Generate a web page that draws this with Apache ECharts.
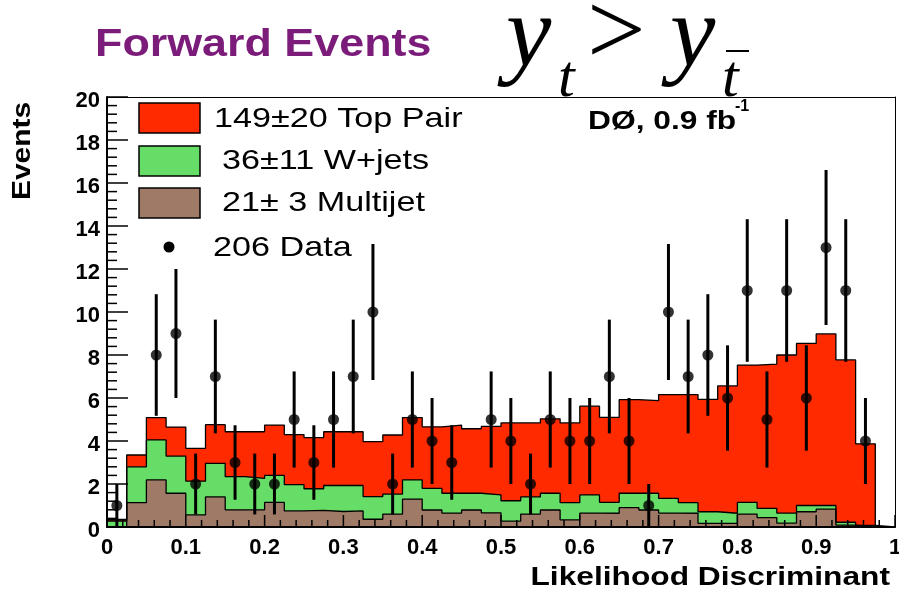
<!DOCTYPE html>
<html><head><meta charset="utf-8">
<script src="https://cdn.jsdelivr.net/npm/echarts@6/dist/echarts.min.js"></script>
<style>html,body{margin:0;padding:0;background:#fff}#c{width:899px;height:598px}</style>
</head><body><div id="c"></div>
<script>
// ---- data (40 bins of width 0.025 on the likelihood discriminant) ----
const binWidth = 0.025;
const multijet = [0,1.13,2.19,1.57,0.56,1.40,0.80,0.80,1.15,0.75,0.77,0.72,0.75,0.36,0.60,1.30,0.79,0.65,0.79,0.66,0.27,0.60,0.79,0.33,0.65,0.64,0.90,0.79,0.65,0.64,0.17,0.17,0.60,0.44,0.18,0.71,0.83,0.09,0.00,0];
const wjets    = [0.28,1.67,1.86,1.73,1.57,1.56,1.54,1.46,1.25,1.22,1.01,1.21,1.18,1.05,0.93,0.89,1.01,0.92,0.78,0.83,0.95,0.80,0.78,0.80,0.84,0.51,0.67,0.78,0.68,0.49,0.54,0.47,0.55,0.43,0.47,0.29,0.17,0.13,0.07,0];
const topPair  = [0.07,0.55,1.04,1.35,1.53,1.80,2.09,2.17,2.34,2.33,2.38,2.50,2.50,2.56,2.75,2.90,2.86,3.17,3.00,3.19,3.62,3.44,3.46,3.71,4.13,3.95,4.35,4.31,4.83,5.03,5.23,5.92,6.38,6.71,7.35,7.54,7.98,7.55,3.80,0];
const dataCounts = [1,0,8,9,2,7,3,2,2,5,3,5,7,10,2,5,4,3,0,5,4,2,5,4,4,7,4,1,10,7,8,6,11,5,11,6,13,11,4,0];
const legendLabels = ['149\u00b120 Top Pair', '36\u00b111 W+jets', '21\u00b1 3 Multijet', '206 Data'];
const titleText = 'Forward Events';
const xTitle = 'Likelihood Discriminant';
const yTitle = 'Events';
const xMajorStep = 0.1, yMajorStep = 2, minorDiv = 5;

const colTop = '#ff2a00', colW = '#66dd66', colMJ = '#9f7b67';

const cumMJ = multijet.slice();
const cumW = multijet.map((v, i) => v + wjets[i]);
const cumTop = cumW.map((v, i) => v + topPair[i]);

function stepPoints(vals) {
  const pts = [[0, 0]];
  vals.forEach((v, k) => { pts.push([k * binWidth, v], [(k + 1) * binWidth, v]); });
  pts.push([vals.length * binWidth, 0]);
  return pts;
}
const pointData = [];
const errData = [];
dataCounts.forEach((n, k) => {
  if (n > 0) {
    const xc = (k + 0.5) * binWidth;
    pointData.push([xc, n]);
    const e = Math.sqrt(n);
    errData.push([xc, Math.max(0, n - e), n + e]);
  }
});
// tick values: kind 0 = x major, 1 = x minor, 2 = y major, 3 = y minor
const tickData = [];
for (let i = 0; i <= 10 * minorDiv; i++) {
  tickData.push([i % minorDiv === 0 ? 0 : 1, +(i * xMajorStep / minorDiv).toFixed(4)]);
  tickData.push([i % minorDiv === 0 ? 2 : 3, +(i * yMajorStep / minorDiv).toFixed(4)]);
}
const tickLen = [12, 7, 21, 10];

function histSeries(vals, color) {
  return {
    type: 'line', data: stepPoints(vals), symbol: 'none', silent: true, animation: false,
    lineStyle: { color: '#000', width: 1.3 },
    areaStyle: { color: color, opacity: 1 }, z: 2
  };
}

const chart = echarts.init(document.getElementById('c'), null, { renderer: 'canvas' });
const axisFont = { fontFamily: 'Liberation Sans', fontWeight: 'bold', fontSize: 22, color: '#000' };
const txt = (o) => Object.assign({ type: 'text', silent: true, z: 100 }, o);
const frameAxis = (pos, min, max) => ({
  type: 'value', position: pos, min: min, max: max, z: 10,
  axisLine: { show: true, onZero: false, lineStyle: { color: '#000', width: 1 } },
  axisTick: { show: false }, minorTick: { show: false }, axisLabel: { show: false },
  splitLine: { show: false }, minorSplitLine: { show: false }
});

const graphics = [
  txt({ x: 95, y: 46, scaleX: 1.18, style: { text: titleText, font: 'bold 38px "Liberation Sans"', fill: '#7b1c7b', textAlign: 'left', textVerticalAlign: 'middle' } }),
  txt({ x: 506, y: 38, style: { text: 'y', font: 'italic 102px "Liberation Serif"', fill: '#000', textAlign: 'left', textVerticalAlign: 'middle' } }),
  txt({ x: 558, y: 80, style: { text: 't', font: 'italic 60px "Liberation Serif"', fill: '#000', textAlign: 'left', textVerticalAlign: 'middle' } }),
  txt({ x: 587, y: 37, style: { text: '>', font: '104px "Liberation Serif"', fill: '#000', textAlign: 'left', textVerticalAlign: 'middle' } }),
  txt({ x: 670, y: 38, style: { text: 'y', font: 'italic 102px "Liberation Serif"', fill: '#000', textAlign: 'left', textVerticalAlign: 'middle' } }),
  txt({ x: 722, y: 80, style: { text: 't', font: 'italic 60px "Liberation Serif"', fill: '#000', textAlign: 'left', textVerticalAlign: 'middle' } }),
  { type: 'line', silent: true, z: 100, shape: { x1: 726, y1: 51, x2: 749, y2: 51 }, style: { stroke: '#000', lineWidth: 2 } },
  { type: 'rect', silent: true, z: 100, shape: { x: 139, y: 103, width: 61, height: 30 }, style: { fill: colTop, stroke: '#000', lineWidth: 1.5 } },
  { type: 'rect', silent: true, z: 100, shape: { x: 139, y: 146, width: 61, height: 30 }, style: { fill: colW, stroke: '#000', lineWidth: 1.5 } },
  { type: 'rect', silent: true, z: 100, shape: { x: 139, y: 188, width: 61, height: 30 }, style: { fill: colMJ, stroke: '#000', lineWidth: 1.5 } },
  { type: 'circle', silent: true, z: 100, shape: { cx: 169, cy: 247, r: 5.5 }, style: { fill: '#000' } },
  txt({ x: 214, y: 119, scaleX: 1.22, style: { text: legendLabels[0], font: '28px "Liberation Sans"', fill: '#000', textAlign: 'left', textVerticalAlign: 'middle' } }),
  txt({ x: 222, y: 161, scaleX: 1.22, style: { text: legendLabels[1], font: '28px "Liberation Sans"', fill: '#000', textAlign: 'left', textVerticalAlign: 'middle' } }),
  txt({ x: 222, y: 203, scaleX: 1.22, style: { text: legendLabels[2], font: '28px "Liberation Sans"', fill: '#000', textAlign: 'left', textVerticalAlign: 'middle' } }),
  txt({ x: 213, y: 248, scaleX: 1.22, style: { text: legendLabels[3], font: '28px "Liberation Sans"', fill: '#000', textAlign: 'left', textVerticalAlign: 'middle' } }),
  txt({ x: 588, y: 122, scaleX: 1.27, style: { text: 'D\u00d8, 0.9 fb', font: 'bold 25px "Liberation Sans"', fill: '#000', textAlign: 'left', textVerticalAlign: 'middle' } }),
  txt({ x: 735, y: 107, style: { text: '-1', font: 'bold 16px "Liberation Sans"', fill: '#000', textAlign: 'left', textVerticalAlign: 'middle' } }),
  txt({ x: 23, y: 151, rotation: Math.PI / 2, scaleX: 1.15, style: { text: yTitle, font: 'bold 26px "Liberation Sans"', fill: '#000', textAlign: 'center', textVerticalAlign: 'middle' } }),
  txt({ x: 890, y: 578, scaleX: 1.22, style: { text: xTitle, font: 'bold 26px "Liberation Sans"', fill: '#000', textAlign: 'right', textVerticalAlign: 'middle' } })
];

chart.setOption({
  backgroundColor: '#fff',
  animation: false,
  grid: { left: 107, right: 4, top: 97, bottom: 71, show: false, containLabel: false, outerBoundsMode: 'none' },
  xAxis: [{
    type: 'value', min: 0, max: 1, interval: xMajorStep, z: 10, position: 'bottom',
    axisLine: { show: true, onZero: false, lineStyle: { color: '#000', width: 2 } },
    axisTick: { show: false }, minorTick: { show: false },
    splitLine: { show: false }, minorSplitLine: { show: false },
    axisLabel: Object.assign({ margin: 10 }, axisFont)
  }, frameAxis('top', 0, 1)],
  yAxis: [{
    type: 'value', min: 0, max: 20, interval: yMajorStep, z: 10, position: 'left',
    axisLine: { show: true, onZero: false, lineStyle: { color: '#000', width: 2 } },
    axisTick: { show: false }, minorTick: { show: false },
    splitLine: { show: false }, minorSplitLine: { show: false },
    axisLabel: Object.assign({ margin: 7, verticalAlign: 'top', lineHeight: 8 }, axisFont)
  }, frameAxis('right', 0, 20)],
  series: [
    histSeries(cumTop, colTop),
    histSeries(cumW, colW),
    histSeries(cumMJ, colMJ),
    {
      type: 'custom', data: errData, z: 5, silent: true, animation: false,
      encode: { x: 0, y: [1, 2] },
      renderItem: function (params, api) {
        const p1 = api.coord([api.value(0), api.value(1)]);
        const p2 = api.coord([api.value(0), api.value(2)]);
        return { type: 'line', shape: { x1: p1[0], y1: p1[1], x2: p2[0], y2: p2[1] }, style: { stroke: '#000', lineWidth: 3 } };
      }
    },
    {
      type: 'scatter', data: pointData, symbol: 'circle', symbolSize: 11, z: 6, silent: true, animation: false,
      itemStyle: { color: '#000' }
    }
  ],
  graphic: graphics
});

// inward axis ticks, positioned through the chart's own x/y scales (series 0 coordinate system)
let extra = [];
try {
  const origin = chart.convertToPixel({ seriesIndex: 0 }, [0, 0]);
  extra = tickData.map(function (t) {
    const kind = t[0], v = t[1], len = tickLen[kind];
    if (kind < 2) {
      const p = chart.convertToPixel({ seriesIndex: 0 }, [v, 0]);
      return { type: 'line', silent: true, z: 90, shape: { x1: p[0], y1: origin[1], x2: p[0], y2: origin[1] - len }, style: { stroke: '#000', lineWidth: 1.5 } };
    }
    const p = chart.convertToPixel({ seriesIndex: 0 }, [0, v]);
    return { type: 'line', silent: true, z: 90, shape: { x1: origin[0], y1: p[1], x2: origin[0] + len, y2: p[1] }, style: { stroke: '#000', lineWidth: 1.5 } };
  });
} catch (err) {
  extra = [txt({ x: 300, y: 300, style: { text: 'ERR ' + err.message, font: '14px sans-serif', fill: '#00f' } })];
}
chart.setOption({ graphic: graphics.concat(extra) });
</script></body></html>
